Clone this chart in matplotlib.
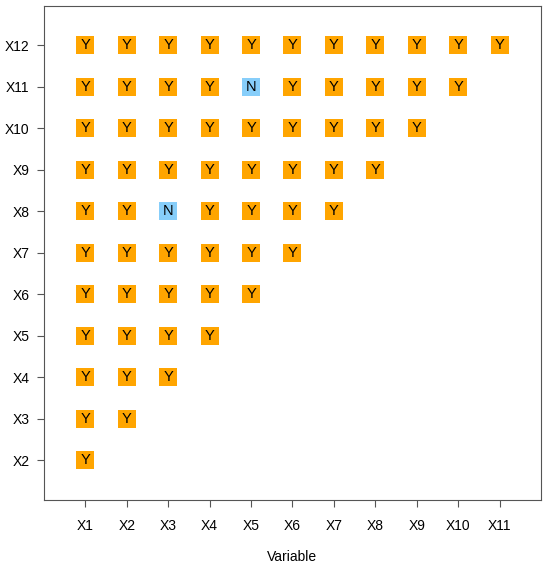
import matplotlib.pyplot as plt

plt.rcParams['font.family'] = ['Liberation Sans', 'DejaVu Sans']

x_vars = ['X1', 'X2', 'X3', 'X4', 'X5', 'X6', 'X7', 'X8', 'X9', 'X10', 'X11']
y_vars = ['X2', 'X3', 'X4', 'X5', 'X6', 'X7', 'X8', 'X9', 'X10', 'X11', 'X12']

# answer for each row (y var) over the x vars that come before it
answers = {
    'X2': ['Y'],
    'X3': ['Y', 'Y'],
    'X4': ['Y', 'Y', 'Y'],
    'X5': ['Y', 'Y', 'Y', 'Y'],
    'X6': ['Y', 'Y', 'Y', 'Y', 'Y'],
    'X7': ['Y', 'Y', 'Y', 'Y', 'Y', 'Y'],
    'X8': ['Y', 'Y', 'N', 'Y', 'Y', 'Y', 'Y'],
    'X9': ['Y', 'Y', 'Y', 'Y', 'Y', 'Y', 'Y', 'Y'],
    'X10': ['Y', 'Y', 'Y', 'Y', 'Y', 'Y', 'Y', 'Y', 'Y'],
    'X11': ['Y', 'Y', 'Y', 'Y', 'N', 'Y', 'Y', 'Y', 'Y', 'Y'],
    'X12': ['Y', 'Y', 'Y', 'Y', 'Y', 'Y', 'Y', 'Y', 'Y', 'Y', 'Y'],
}
colors = {'Y': '#FFA500', 'N': '#87CEFA'}

fig = plt.figure(figsize=(5.5, 5.71), dpi=100)
ax = fig.add_axes([0.08, 0.1243, 0.9036, 0.8652])

for yi, yv in enumerate(y_vars):
    for xi, a in enumerate(answers[yv]):
        ax.scatter(xi + 1, yi + 2, marker='s', s=150, color=colors[a], linewidths=0)
        ax.text(xi + 1, yi + 2, a, ha='center', va='center', fontsize=10.5)

ax.set_xlim(0, 12)
ax.set_ylim(1.04, 12.95)
ax.set_xticks(range(1, len(x_vars) + 1))
ax.set_xticklabels(x_vars)
ax.set_yticks(range(2, len(y_vars) + 2))
ax.set_yticklabels(y_vars)
ax.tick_params(length=5, labelsize=10, color='#555555')
ax.tick_params(axis='x', pad=9)
ax.tick_params(axis='y', pad=5.5)
for s in ax.spines.values():
    s.set_color('#555555')
ax.set_xlabel('Variable', fontsize=10, labelpad=12)

fig.savefig('out.png')
